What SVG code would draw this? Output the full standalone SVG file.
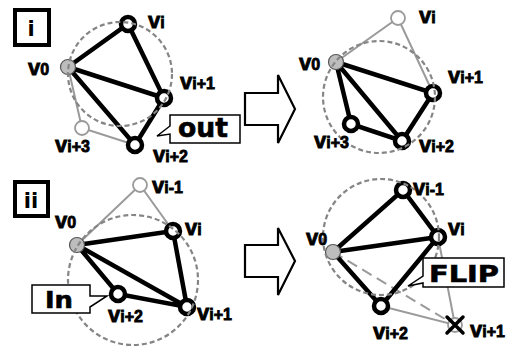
<svg xmlns="http://www.w3.org/2000/svg" width="516" height="346" viewBox="0 0 516 346">
<style>
.bg{fill:#fff}
.e{stroke:#000;stroke-width:4.5;stroke-linecap:round;fill:none}
.g{stroke:#9a9a9a;stroke-width:2;fill:none}
.gd{stroke:#9a9a9a;stroke-width:2;fill:none;stroke-dasharray:11 6}
.n{fill:#fff;stroke:#000;stroke-width:4.5}
.n0{fill:#bdbdbd;stroke:#555;stroke-width:1.2}
.ng{fill:#fff;stroke:#9a9a9a;stroke-width:1.8}
.dc{fill:none;stroke:#858585;stroke-width:2.2;stroke-dasharray:5 3}
.lb{font-family:"Liberation Sans",Arial,sans-serif;font-weight:bold;font-size:22px;fill:#000;stroke:#000;stroke-width:0.8}
.sb{font-size:16px}
.box{fill:#fff;stroke:#000;stroke-width:4}
.bt{font-family:"DejaVu Sans",sans-serif;font-weight:bold;font-size:21px;fill:#000;text-anchor:middle}
.co{fill:#fff;stroke:#000;stroke-width:1.5;stroke-linejoin:miter}
.ct{font-family:"DejaVu Sans",sans-serif;font-weight:bold;fill:#000;text-anchor:middle;stroke:#000;stroke-width:0.6}
.ar{fill:#fff;stroke:#000;stroke-width:2.2;stroke-linejoin:miter}
.x{stroke:#000;stroke-width:3.5;stroke-linecap:round}
</style>
<rect class="bg" x="0" y="0" width="516" height="346"/>

<g id="label-i"><rect class="box" x="15" y="10" width="34" height="35"/><text class="bt" x="31" y="36">i</text></g>
<g id="label-ii"><rect class="box" x="15" y="182" width="33" height="34"/><text class="bt" x="31" y="208">ii</text></g>

<g id="arrow-i"><path class="ar" d="M245,93 H278 V75 L295,109 L278,143 V125 H245 Z"/></g>
<g id="arrow-ii"><path class="ar" d="M245,245 H278 V228 L295,261 L278,295 V277 H245 Z"/></g>

<g id="connectors">
  <path class="g" d="M68,67 L82,128 L135,145"/>
  <path class="e" d="M68,67 L128,24 L164,98 L135,145 L68,67 M68,67 L164,98"/>
  <path class="g" d="M336,62 L398,18 L433,93"/>
  <path class="e" d="M336,62 L433,93 L402,141 L351,124 L336,62 M336,62 L402,141"/>
  <path class="g" d="M77,245 L140,185 L173,231"/>
  <path class="e" d="M77,245 L173,231 L187,307 L118,294 L77,245 M77,245 L187,307"/>
  <path class="g" d="M438,237 L455,325 L381,306"/>
  <path class="gd" d="M333,252 L455,325"/>
  <path class="e" d="M333,252 L403,190 L438,237 L381,306 L333,252 M333,252 L438,237"/>
</g>

<g id="node-i-vi"><circle class="n" cx="128" cy="24" r="7"/></g>
<g id="node-i-v0"><circle class="n0" cx="68" cy="67" r="7.5"/></g>
<g id="node-i-vi1"><circle class="n" cx="164" cy="98" r="7"/></g>
<g id="node-i-vi2"><circle class="n" cx="135" cy="145" r="7"/></g>
<g id="node-i-vi3"><circle class="ng" cx="82" cy="128" r="7"/></g>

<g id="node-ir-vi"><circle class="ng" cx="398" cy="18" r="7"/></g>
<g id="node-ir-v0"><circle class="n0" cx="336" cy="62" r="7.5"/></g>
<g id="node-ir-vi1"><circle class="n" cx="433" cy="93" r="7"/></g>
<g id="node-ir-vi2"><circle class="n" cx="402" cy="141" r="7"/></g>
<g id="node-ir-vi3"><circle class="n" cx="351" cy="124" r="7"/></g>

<g id="node-ii-vim1"><circle class="ng" cx="140" cy="185" r="7"/></g>
<g id="node-ii-v0"><circle class="n0" cx="77" cy="245" r="7.5"/></g>
<g id="node-ii-vi"><circle class="n" cx="173" cy="231" r="7"/></g>
<g id="node-ii-vi1"><circle class="n" cx="187" cy="307" r="7"/></g>
<g id="node-ii-vi2"><circle class="n" cx="118" cy="294" r="7"/></g>

<g id="node-iir-vim1"><circle class="n" cx="403" cy="190" r="7"/></g>
<g id="node-iir-v0"><circle class="n0" cx="333" cy="252" r="7.5"/></g>
<g id="node-iir-vi"><circle class="n" cx="438" cy="237" r="7"/></g>
<g id="node-iir-vi2"><circle class="n" cx="381" cy="306" r="7"/></g>
<g id="node-iir-vi1"><circle class="ng" cx="455" cy="325" r="7"/><path class="x" d="M447,317 L463,333 M463,317 L447,333"/></g>

<g id="circles">
  <circle class="dc" cx="120" cy="74" r="52"/>
  <circle class="dc" cx="379" cy="97" r="56"/>
  <circle class="dc" cx="133" cy="280" r="65"/>
  <circle class="dc" cx="381" cy="237" r="58"/>
</g>

<g id="labels">
  <text class="lb" x="28" y="75">v<tspan class="sb">0</tspan></text>
  <text class="lb" x="148" y="28">v<tspan class="sb">i</tspan></text>
  <text class="lb" x="180" y="89">v<tspan class="sb">i+1</tspan></text>
  <text class="lb" x="55" y="152">v<tspan class="sb">i+3</tspan></text>
  <text class="lb" x="153" y="162">v<tspan class="sb">i+2</tspan></text>

  <text class="lb" x="299" y="70">v<tspan class="sb">0</tspan></text>
  <text class="lb" x="419" y="23">v<tspan class="sb">i</tspan></text>
  <text class="lb" x="448" y="83">v<tspan class="sb">i+1</tspan></text>
  <text class="lb" x="314" y="148">v<tspan class="sb">i+3</tspan></text>
  <text class="lb" x="419" y="152">v<tspan class="sb">i+2</tspan></text>

  <text class="lb" x="152" y="193">v<tspan class="sb">i-1</tspan></text>
  <text class="lb" x="185" y="235">v<tspan class="sb">i</tspan></text>
  <text class="lb" x="55" y="228">v<tspan class="sb">0</tspan></text>
  <text class="lb" x="197" y="320">v<tspan class="sb">i+1</tspan></text>
  <text class="lb" x="108" y="322">v<tspan class="sb">i+2</tspan></text>

  <text class="lb" x="413" y="195">v<tspan class="sb">i-1</tspan></text>
  <text class="lb" x="448" y="235">v<tspan class="sb">i</tspan></text>
  <text class="lb" x="306" y="245">v<tspan class="sb">0</tspan></text>
  <text class="lb" x="470" y="337">v<tspan class="sb">i+1</tspan></text>
  <text class="lb" x="373" y="339">v<tspan class="sb">i+2</tspan></text>
</g>

<g id="callout-out">
  <path class="co" d="M170,115 H240 V143 H170 V134 L157,136 L170,126 Z"/>
  <text class="ct" x="203" y="137" font-size="26" textLength="50" lengthAdjust="spacingAndGlyphs">out</text>
</g>
<g id="callout-in">
  <path class="co" d="M32,285 H90 V296 L107,296 L90,307 V313 H32 Z"/>
  <text class="ct" x="59" y="308" font-size="23" textLength="28" lengthAdjust="spacingAndGlyphs">In</text>
</g>
<g id="callout-flip">
  <path class="co" d="M423,258 H504 V287 H423 V283 L408,286 L423,276 Z"/>
  <text class="ct" x="464" y="282" font-size="23" textLength="70" lengthAdjust="spacingAndGlyphs">FLIP</text>
</g>
</svg>
